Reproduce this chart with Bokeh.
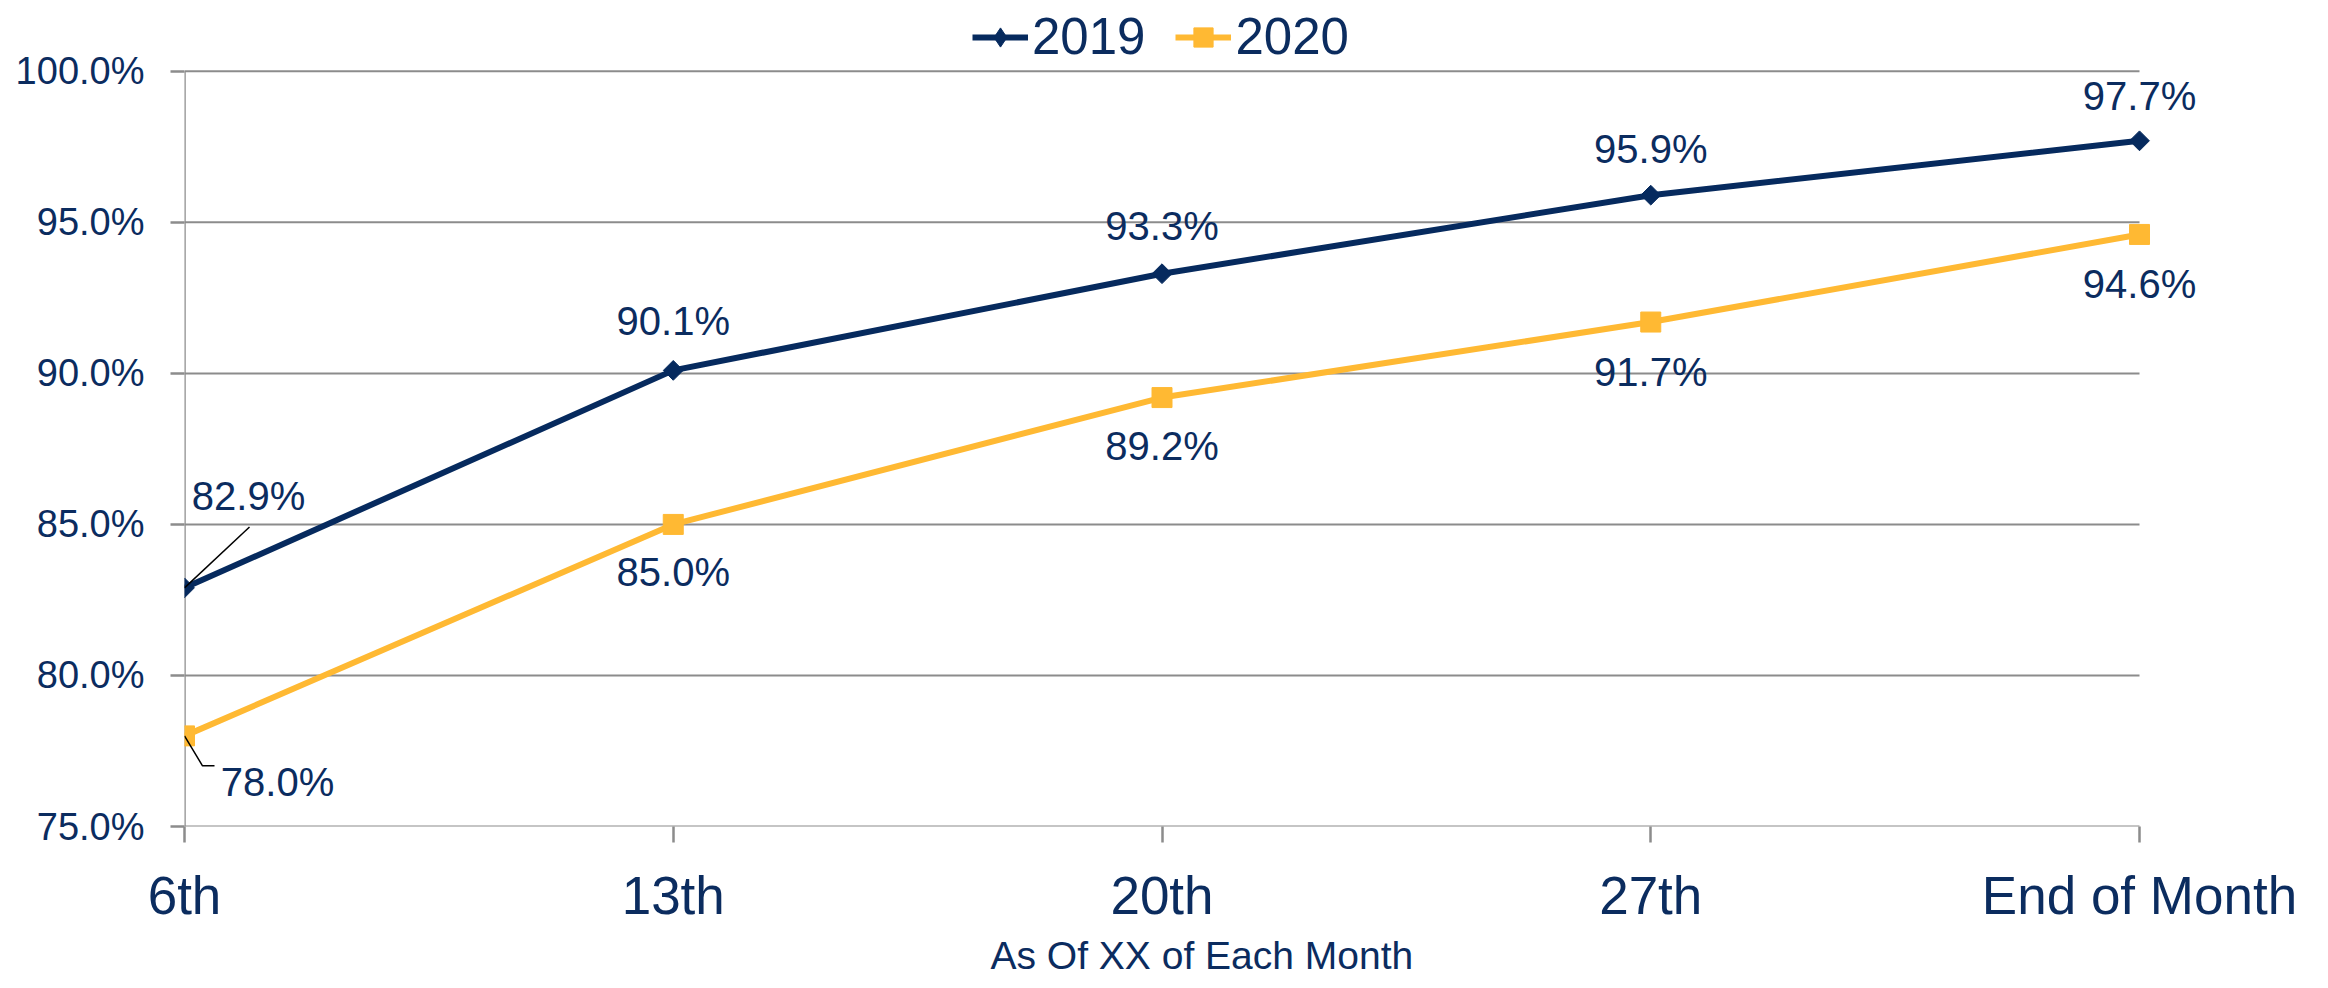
import math
from bokeh.plotting import figure
from bokeh.models import (Range1d, FixedTicker, Legend, LegendItem, ColumnDataSource, LabelSet,
                          Title)
from bokeh.core.properties import value
from bokeh.embed import file_html
from bokeh.resources import INLINE

# ---- data ----
categories = ["6th", "13th", "20th", "27th", "End of Month"]
series_2019 = [82.9, 90.1, 93.3, 95.9, 97.7]
series_2020 = [78.0, 85.0, 89.2, 91.7, 94.6]
y_ticks = [75, 80, 85, 90, 95, 100]
x_title = "As Of XX of Each Month"

# ---- style ----
NAVY = "#0b2c5f"
C2019 = "#062a5e"
C2020 = "#ffb933"
GRID = "#8c8c8c"
REG = "Liberation Sans"

W, H = 2320, 980
BL, BB = 184, 152          # left / bottom borders
PLOT_TOP = 71              # pixel row of the top gridline
PLOT_RIGHT = 2139          # pixel column of the last category
FRAME_RIGHT = 2268         # frame extends past the last category (room for labels)
FH_DATA = H - BB - PLOT_TOP
FW_DATA = PLOT_RIGHT - BL

n = len(categories)
pxx = FW_DATA / (n - 1)
pxy = FH_DATA / (y_ticks[-1] - y_ticks[0])
x_end = (n - 1) + (FRAME_RIGHT - PLOT_RIGHT) / pxx
y_end = y_ticks[-1] + PLOT_TOP / pxy

xs = list(range(n))
p = figure(width=W, height=H, output_backend="svg", toolbar_location=None,
           x_range=Range1d(0, x_end), y_range=Range1d(y_ticks[0], y_end),
           min_border_left=BL, min_border_right=W - FRAME_RIGHT, min_border_top=0,
           min_border_bottom=BB)
p.outline_line_color = None
p.xgrid.grid_line_color = None
p.ygrid.grid_line_color = None

p.xaxis.ticker = FixedTicker(ticks=xs)
p.xaxis.major_label_overrides = {i: c for i, c in enumerate(categories)}
p.yaxis.ticker = FixedTicker(ticks=y_ticks)
p.yaxis.major_label_overrides = {t: f"{t:.1f}%" for t in y_ticks}

for ax in (p.xaxis[0], p.yaxis[0]):
    ax.axis_line_color = None
    ax.major_tick_line_color = GRID
    ax.major_tick_line_width = 2.5
    ax.major_tick_in = 0
    ax.minor_tick_line_color = None
    ax.major_label_text_color = NAVY

p.yaxis.major_tick_out = 14
p.yaxis.major_label_text_font = REG
p.yaxis.major_label_text_font_size = "38px"
p.yaxis.major_label_standoff = 26

p.xaxis.major_tick_out = 16
p.xaxis.major_label_text_font = REG
p.xaxis.major_label_text_font_size = "53px"
p.xaxis.major_label_standoff = 23

# axis title, placed by its left edge (the frame is wider than the data area)
p.add_layout(Title(text=x_title, align="left", offset=806, standoff=8,
                   text_font=REG, text_font_size="39px", text_font_style="normal",
                   text_color=NAVY), "below")

# gridlines and axis lines restricted to the data area
p.segment(x0=[xs[0]] * len(y_ticks), x1=[xs[-1]] * len(y_ticks), y0=y_ticks, y1=y_ticks,
          line_color=GRID, line_width=2)
p.segment(x0=[xs[0]], x1=[xs[0]], y0=[y_ticks[0]], y1=[y_ticks[-1]],
          line_color=GRID, line_width=2.5)

l19 = p.line(xs, series_2019, line_color=C2019, line_width=6)
m19 = p.scatter(xs, series_2019, marker="square", angle=math.pi / 4, size=14,
                fill_color=C2019, line_color=C2019)
l20 = p.line(xs, series_2020, line_color=C2020, line_width=6)
m20 = p.scatter(xs, series_2020, marker="square", size=20,
                fill_color=C2020, line_color=C2020)
# diamond shown only in the legend key (a single non-drawn point)
k19 = p.scatter(x=[float("nan")], y=[float("nan")], marker="diamond", size=22,
                fill_color=C2019, line_color=C2019)

# data labels (offsets in screen pixels, positive = up)
off19_x = [64, 0, 0, 0, 0]
off19_y = [92, 49, 48, 46, 45]
off20_x = [93, 0, 0, 0, 0]
off20_y = [-46, -48, -48, -50, -50]

src19 = ColumnDataSource(dict(x=xs, y=series_2019, t=[f"{v:.1f}%" for v in series_2019],
                              dx=off19_x, dy=off19_y))
src20 = ColumnDataSource(dict(x=xs, y=series_2020, t=[f"{v:.1f}%" for v in series_2020],
                              dx=off20_x, dy=off20_y))
for s in (src19, src20):
    p.add_layout(LabelSet(x="x", y="y", text="t", source=s, x_offset="dx", y_offset="dy",
                          text_align="center", text_baseline="middle", text_color=NAVY,
                          text_font=value(REG), text_font_size="40px", level="overlay"))

# leader lines for the first points
lead_xs = [[xs[0], xs[0] + 65 / pxx],
           [xs[0], xs[0] + 18 / pxx, xs[0] + 30 / pxx]]
lead_ys = [[series_2019[0], series_2019[0] + 61 / pxy],
           [series_2020[0], series_2020[0] - 30 / pxy, series_2020[0] - 30 / pxy]]
p.multi_line(lead_xs, lead_ys, line_color="black", line_width=1.5)

legend = Legend(items=[LegendItem(label="2019", renderers=[l19, k19]),
                       LegendItem(label="2020", renderers=[l20, m20])],
                orientation="horizontal", location=(788, (H - BB) - 68),
                label_text_font=REG, label_text_font_size="51px", label_text_color=NAVY,
                glyph_width=56, glyph_height=48, label_standoff=4, spacing=30,
                padding=0, margin=0, border_line_color=None, background_fill_alpha=0)
p.add_layout(legend, "center")

open("out.html", "w").write(file_html(p, INLINE))
